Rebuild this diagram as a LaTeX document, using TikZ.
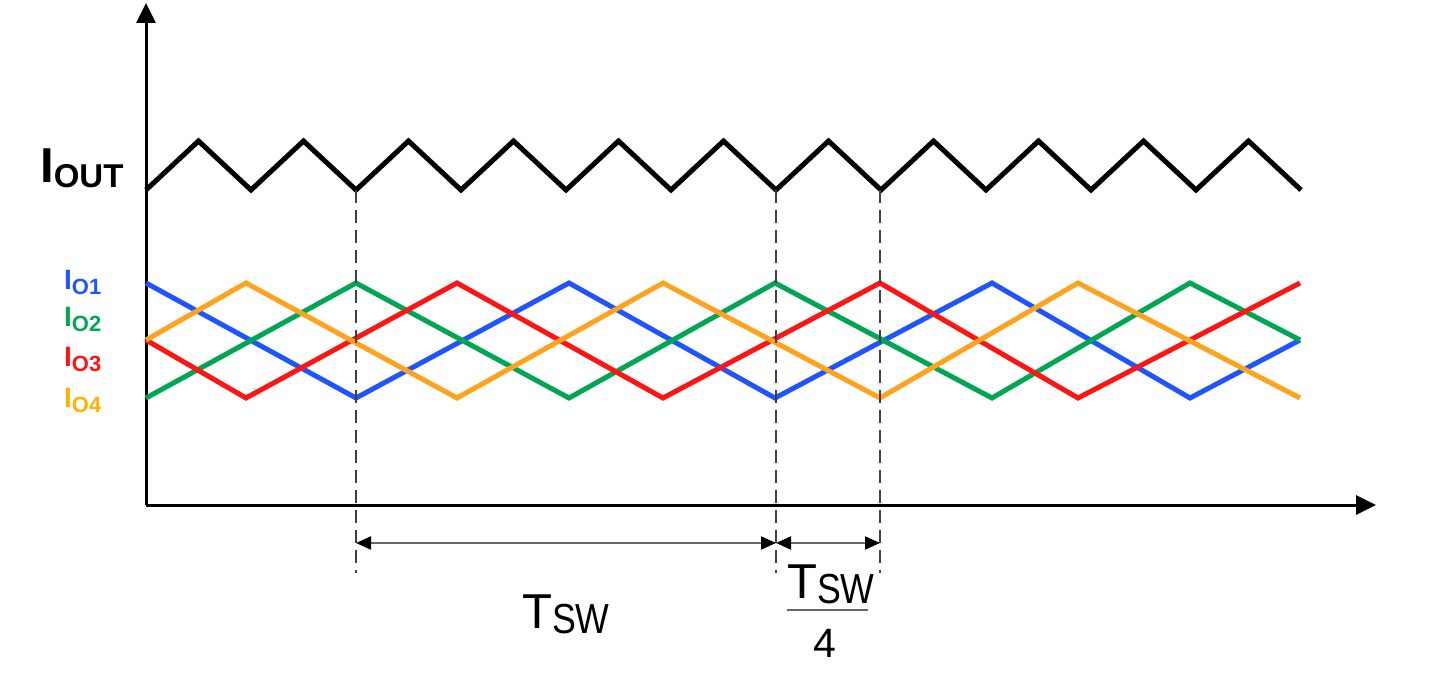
\documentclass[tikz,border=0pt]{standalone}
\usepackage{fontspec}
\usepackage{graphicx}
\setmainfont{Liberation Sans}
\usetikzlibrary{arrows.meta}
\definecolor{blueC}{RGB}{30,85,255}
\definecolor{greenC}{RGB}{0,166,81}
\definecolor{redC}{RGB}{255,20,20}
\definecolor{orangeC}{RGB}{255,163,30}
\definecolor{orangeL}{RGB}{255,178,0}
\definecolor{dashC}{RGB}{64,64,64}
\definecolor{dimC}{RGB}{100,100,100}
\tikzset{
  axis/.style={line width=3pt, -{Triangle[length=20pt,width=19pt]}},
  wave/.style={line width=5pt, line join=miter},
  guide/.style={dashC, line width=2.2pt, dash pattern=on 13pt off 7pt},
  dimarrow/.style={dimC, line width=2pt,
    {Triangle[length=15pt,width=13pt,black]}-{Triangle[length=15pt,width=13pt,black]}},
  lbl/.style={anchor=base west, inner sep=0pt},
}
\newcommand{\bigI}[3]{{\fontsize{#1}{#1}\selectfont\bfseries I}\raisebox{-5pt}{\fontsize{#2}{#2}\selectfont #3}}
\newcommand{\tswtext}{{\fontsize{49}{49}\selectfont T}\raisebox{-5pt}{\scalebox{0.85}[1]{\fontsize{42}{42}\selectfont SW}}}
\begin{document}
\begin{tikzpicture}[x=1pt,y=-1pt]
\useasboundingbox (0,0) rectangle (1454,692);
% axes
\coordinate (O) at (146,505);
\coordinate (ytip) at (146,3);
\coordinate (xtip) at (1376,505);
\draw[axis] (O) -- (ytip);
\draw[axis] (O) -- (xtip);
% IOUT waveform
\draw[wave] (146,190) \foreach \k in {0,...,10} { -- ({198.5+105*\k},141) -- ({251+105*\k},190) };
% phase currents
\draw[wave, blueC] (146,283) -- (356,398) -- (569,283) -- (775,398) -- (992,283) -- (1190,398) -- (1300,340);
\draw[wave, greenC] (146,398) -- (356,283) -- (569,398) -- (775,283) -- (992,398) -- (1190,283) -- (1300,340);
\draw[wave, redC] (146,340) -- (246,398) -- (457,283) -- (663,398) -- (880,283) -- (1078,398) -- (1300,283);
\draw[wave, orangeC] (146,340) -- (246,283) -- (457,398) -- (663,283) -- (880,398) -- (1078,283) -- (1300,398);
% guides
\coordinate (g1t) at (356,190); \coordinate (g1b) at (356,573);
\coordinate (g2t) at (776,190); \coordinate (g2b) at (776,573);
\coordinate (g3t) at (880,190); \coordinate (g3b) at (880,573);
\draw[guide] (g1t) -- (g1b);
\draw[guide] (g2t) -- (g2b);
\draw[guide] (g3t) -- (g3b);
% dimension arrows
\coordinate (a1) at (356,543);
\coordinate (a2) at (776,543);
\coordinate (a3) at (880,543);
\draw[dimarrow] (a1) -- (a2);
\draw[dimarrow] (a2) -- (a3);
% labels
\node[lbl, font=\bfseries] (iout) at (40,183) {\bigI{49}{33}{OUT}};
\node[lbl, font=\bfseries, text=blueC] (l1) at (64,290) {\bigI{28}{22}{O1}};
\node[lbl, font=\bfseries, text=greenC] (l2) at (64,327) {\bigI{28}{22}{O2}};
\node[lbl, font=\bfseries, text=redC] (l3) at (64,367) {\bigI{28}{22}{O3}};
\node[lbl, font=\bfseries, text=orangeL] (l4) at (64,408) {\bigI{28}{22}{O4}};
\node[lbl] (tsw) at (522,628) {\tswtext};
\node[lbl] (tswq) at (787,598) {\tswtext};
\coordinate (barL) at (787,610);
\coordinate (barR) at (868,610);
\draw[dimC, line width=2.5pt] (barL) -- (barR);
\node[lbl] (four) at (813,657) {\fontsize{41}{41}\selectfont 4};
\end{tikzpicture}
\end{document}
